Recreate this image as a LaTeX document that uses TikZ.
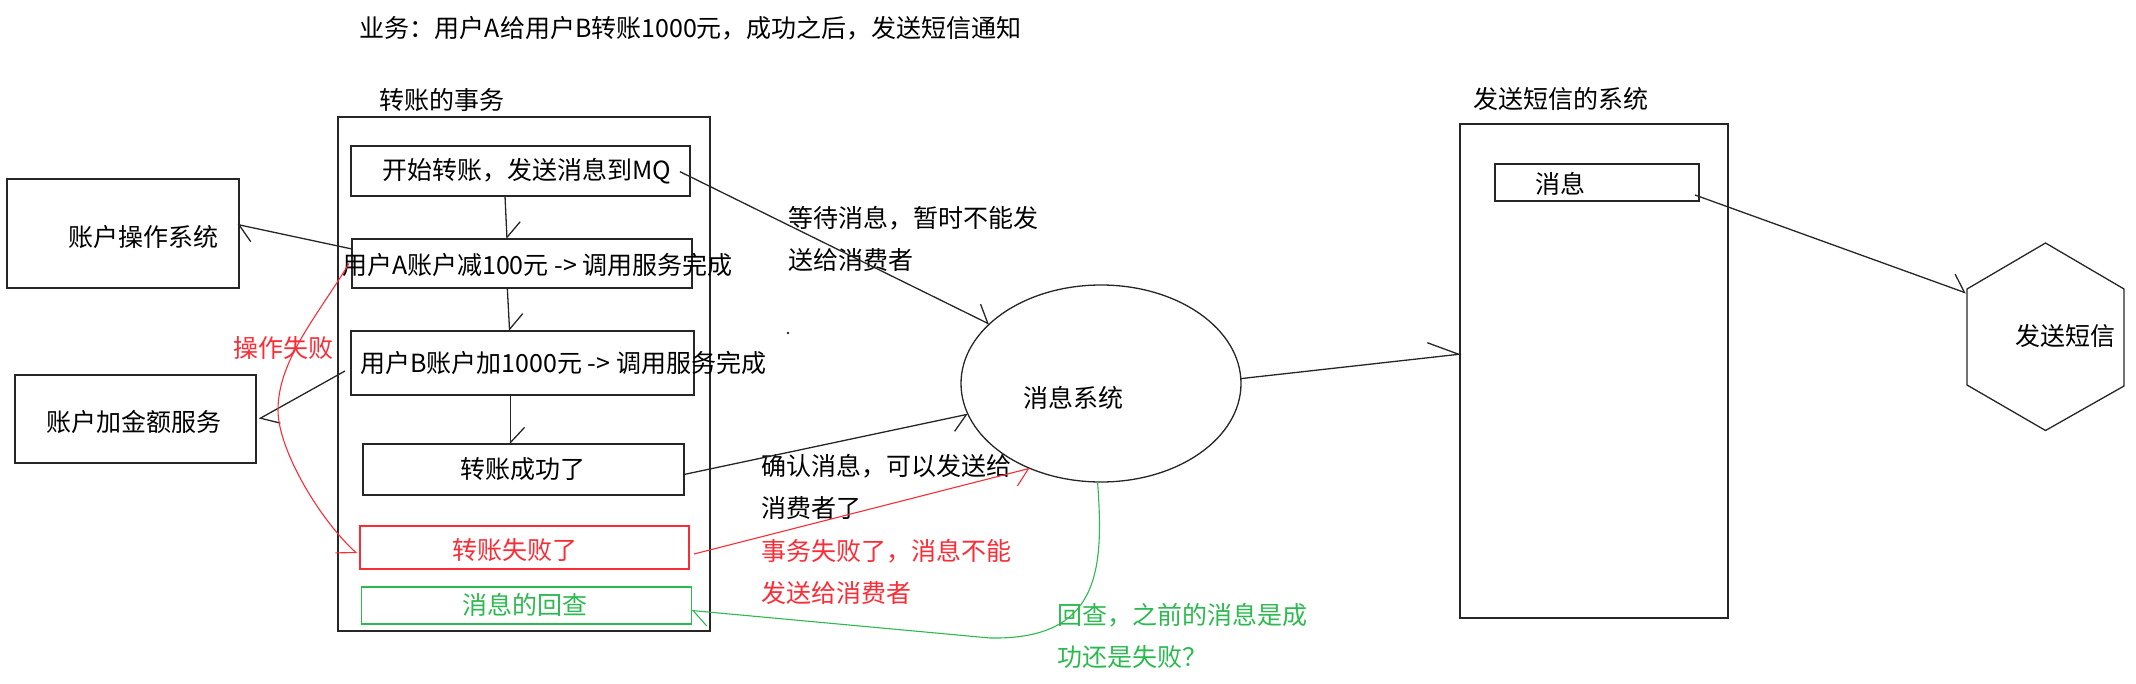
\documentclass[tikz,border=0pt]{standalone}
\usepackage{fontspec}
\setmainfont{Noto Sans CJK SC}
\usetikzlibrary{arrows.meta,calc,shapes.geometric}
\definecolor{myred}{RGB}{250,45,55}
\definecolor{mygreen}{RGB}{45,185,80}
\begin{document}
\begin{tikzpicture}[x=1pt,y=-1pt,
  every node/.style={font=\fontsize{25}{42}\selectfont, inner sep=0pt, outer sep=0pt},
  bx/.style={draw=black!85, line width=1.3pt, rectangle},
  ln/.style={draw=black!85, line width=1.3pt},
  arrL/.style={-{Straight Barb[left,length=15pt,width=28pt]}},
  arrR/.style={-{Straight Barb[right,length=15pt,width=28pt]}},
  txt/.style={align=left, anchor=west},
]
\useasboundingbox (0,0) rectangle (2136,684);

% titles
\node[anchor=west] (title) at (359.8,28.3) {业务：用户A给用户B转账1000元，成功之后，发送短信通知};
\node[anchor=west] (txT) at (379.6,100) {转账的事务};
\node[anchor=west] (smsT) at (1473,99) {发送短信的系统};

% transaction container and steps
\node[bx, minimum width=372pt, minimum height=514pt] (tx) at (524,374) {};
\node[bx, minimum width=339pt, minimum height=50pt] (b1) at (520.5,171) {};
\node (b1t) at (527,171.5) {开始转账，发送消息到MQ};
\node[bx, minimum width=340pt, minimum height=49pt] (b2) at (522,263.5) {};
\node[anchor=west] (b2t) at (342,265) {用户A账户减100元 -> 调用服务完成};
\node[bx, minimum width=343pt, minimum height=64pt] (b3) at (522.5,363) {};
\node[anchor=west] (b3t) at (360.4,363.3) {用户B账户加1000元 -> 调用服务完成};
\node[bx, minimum width=321pt, minimum height=51pt] (b4) at (523.5,469.5) {};
\node (b4t) at (523,469.3) {转账成功了};
\node[draw=myred, line width=1.2pt, rectangle, minimum width=329pt, minimum height=43pt] (b5) at (524.5,547.5) {};
\node[text=myred] (b5t) at (515,550) {转账失败了};
\node[draw=mygreen, line width=1.2pt, rectangle, minimum width=330pt, minimum height=37pt] (b6) at (526.7,605.5) {};
\node[text=mygreen] (b6t) at (525,605) {消息的回查};

% left services
\node[bx, minimum width=232pt, minimum height=109pt] (op) at (123,233.5) {};
\node (opt) at (143,236.7) {账户操作系统};
\node[bx, minimum width=241pt, minimum height=88pt] (add) at (135.5,419) {};
\node (addt) at (134,421.7) {账户加金额服务};

% message system
\node[draw=black!85, line width=1.3pt, ellipse, minimum width=280pt, minimum height=197pt] (ell) at (1101,383.5) {};
\node (ellt) at (1073,398) {消息系统};

% SMS system
\node[bx, minimum width=268pt, minimum height=494pt] (sms) at (1594,371) {};
\node[bx, minimum width=204pt, minimum height=37pt] (msg) at (1597,182.5) {};
\node (msgt) at (1560.5,184) {消息};

% hexagon
\coordinate (hT) at (2045.5,243);
\coordinate (hUR) at (2124,289);
\coordinate (hLR) at (2124,386);
\coordinate (hB) at (2045.5,430.5);
\coordinate (hLL) at (1967,385);
\coordinate (hUL) at (1967,289);
\draw[ln] (hT) -- (hUR) -- (hLR) -- (hB) -- (hLL) -- (hUL) -- cycle;
\node (hext) at (2065,336) {发送短信};

% labels
\node[txt] (lbl1) at (788,239) {等待消息，暂时不能发\\送给消费者};
\node[txt] (lbl2) at (761.7,487) {确认消息，可以发送给\\消费者了};
\node[txt, text=myred] (lbl3) at (761.7,572) {事务失败了，消息不能\\发送给消费者};
\node[txt, text=mygreen] (lbl4) at (1057,635.7) {回查，之前的消息是成\\功还是失败？};
\node[text=myred] (lbl5) at (283.5,348) {操作失败};
\fill[black!85] (788,333) circle (1.4pt);

% connectors inside transaction
\draw[ln, arrL] ($(b1.south)+(-15.5,0)$) -- ($(b2.north)+(-15,0)$);
\draw[ln, arrL] ($(b2.south)+(-14.7,0)$) -- ($(b3.north)+(-12.9,0)$);
\draw[ln, arrL] ($(b3.south)+(-11.9,0)$) -- ($(b4.north)+(-12.9,0)$);

% to left services
\draw[ln, arrL] ($(b2.west)+(0,-14.5)$) -- ($(op.east)+(-1.6,-9)$);
\draw[ln, arrL] ($(b3.west)+(-6,8)$) -- ($(add.east)+(3,0)$);

% to message system
\draw[ln, arrL] ($(b1.east)+(-10,0.7)$) -- (ell.152);
\draw[ln, arrR] ($(b4.east)+(0,5)$) -- (ell.193);
\draw[myred, line width=1.1pt, arrR] ($(b5.east)+(5,6.5)$) -- (ell.230);

% message system to SMS system
\draw[ln, -{Straight Barb[left,length=30pt,width=30pt]}] (ell.2) -- ($(sms.west)+(1.5,-17)$);
\draw[ln, arrL] ($(msg.east)+(-4,12.5)$) -- ($(hUL)+(-1,4)$);

% failure curve
\draw[myred, line width=1.1pt, arrR] ($(b2.west)+(-3,0)$) .. controls (318,315) and (278,360) .. (278,410) .. controls (278,450) and (320,520) .. ($(b5.west)+(-3,6)$);

% check-back curve
\draw[mygreen, line width=1.1pt, arrL] (ell.268) .. controls (1104,570) and (1100,640) .. (990,638) -- ($(b6.east)+(0,5)$);
\end{tikzpicture}
\end{document}
